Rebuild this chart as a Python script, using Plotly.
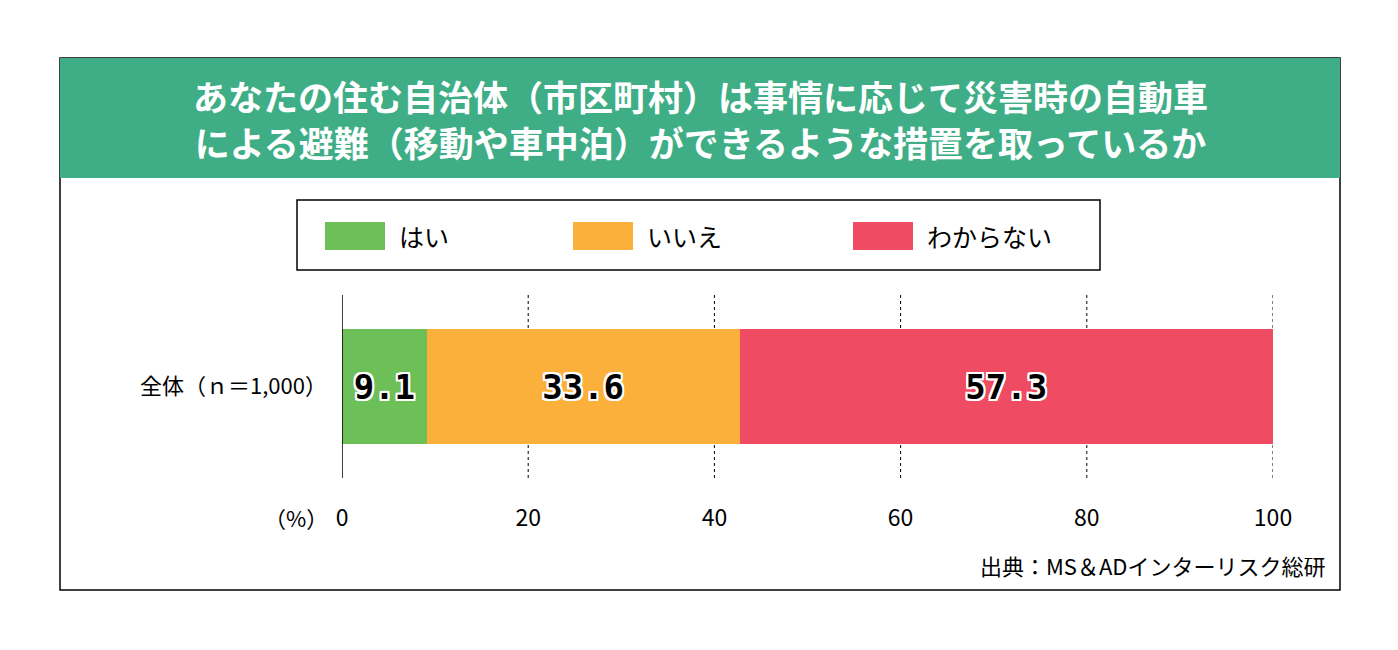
import plotly.graph_objects as go

# data
categories = ["はい", "いいえ", "わからない"]
values = [9.1, 33.6, 57.3]
colors = ["#6dbf58", "#fbb03b", "#ef4b62"]
group = "全体（ｎ＝1,000）"
tick_vals = [0, 20, 40, 60, 80, 100]
title = "あなたの住む自治体（市区町村）は事情に応じて災害時の自動車<br>による避難（移動や車中泊）ができるような措置を取っているか"
source = "出典：MS＆ADインターリスク総研"

FONT = "Noto Sans CJK JP"
W, H = 1398, 650
OFF = 8  # page body margin
L, R, T, B = 342, 1273, 295, 478


def px(x):
    return (x - L) / (R - L)


def py(y):
    return (B - y) / (B - T)


outline = ", ".join(f"{dx}px {dy}px 0 #fff" for dx in (-2, 0, 2) for dy in (-2, 0, 2))

fig = go.Figure()
for cat, v, c in zip(categories, values, colors):
    fig.add_trace(go.Bar(
        x=[v], y=[group], orientation="h", name=cat,
        marker=dict(color=c, line=dict(width=0)),
        text=[f"{v:.1f}"], textposition="inside", insidetextanchor="middle",
        textfont=dict(family="DejaVu Sans Mono", size=34, color="black", weight="bold", shadow=outline),
        showlegend=False,
    ))

shapes = [
    dict(type="rect", xref="paper", yref="paper", x0=px(60), x1=px(1340), y0=py(590), y1=py(58),
         line=dict(color="black", width=1.5), fillcolor="rgba(0,0,0,0)", layer="below"),
    dict(type="rect", xref="paper", yref="paper", x0=px(60), x1=px(1340), y0=py(178), y1=py(58),
         line=dict(width=0), fillcolor="#3fae86", layer="below"),
    dict(type="rect", xref="paper", yref="paper", x0=px(297), x1=px(1100), y0=py(270), y1=py(200),
         line=dict(color="black", width=1.5)),
    dict(type="line", xref="x", yref="paper", x0=0, x1=0, y0=0, y1=1, line=dict(color="black", width=1.5)),
]
for t in tick_vals[1:]:
    shapes.append(dict(type="line", xref="x", yref="paper", x0=t, x1=t, y0=0, y1=1,
                       line=dict(color="black", width=1, dash="dot"), layer="below"))

annotations = [
    dict(text=f"<b>{title}</b>", xref="paper", yref="paper", x=px(700), y=py(118), yanchor="middle",
         showarrow=False, font=dict(family=FONT, size=35, color="white"), align="center"),
    dict(text="（%）", xref="paper", yref="paper", x=px(330), y=py(517), xanchor="right", yanchor="middle",
         showarrow=False, font=dict(family=FONT, size=22, color="black")),
    dict(text=source, xref="paper", yref="paper", x=px(1328), y=py(565), xanchor="right", yanchor="middle",
         showarrow=False, font=dict(family=FONT, size=22, color="black")),
]
sw = [325, 573, 853]
for cat, c, x0 in zip(categories, colors, sw):
    shapes.append(dict(type="rect", xref="paper", yref="paper", x0=px(x0), x1=px(x0 + 60),
                       y0=py(250), y1=py(222), line=dict(width=0), fillcolor=c))
    annotations.append(dict(text=cat, xref="paper", yref="paper", x=px(x0 + 72), y=py(236),
                            xanchor="left", yanchor="middle", showarrow=False,
                            font=dict(family=FONT, size=25, color="black")))

fig.update_layout(
    width=W - 2 * OFF, height=H - 2 * OFF, barmode="stack", bargap=0.37,
    margin=dict(l=L - OFF, r=(W - OFF) - R, t=T - OFF, b=(H - OFF) - B),
    plot_bgcolor="white", paper_bgcolor="white",
    xaxis=dict(range=[0, 100], tickvals=tick_vals, showgrid=False, zeroline=False, showline=False,
               ticks="", tickfont=dict(family=FONT, size=23, color="black"), ticklabelstandoff=24),
    yaxis=dict(showgrid=False, ticks="", tickfont=dict(family=FONT, size=22, color="black"), ticklabelstandoff=14),
    shapes=shapes, annotations=annotations,
)

fig.write_html("out.html")
